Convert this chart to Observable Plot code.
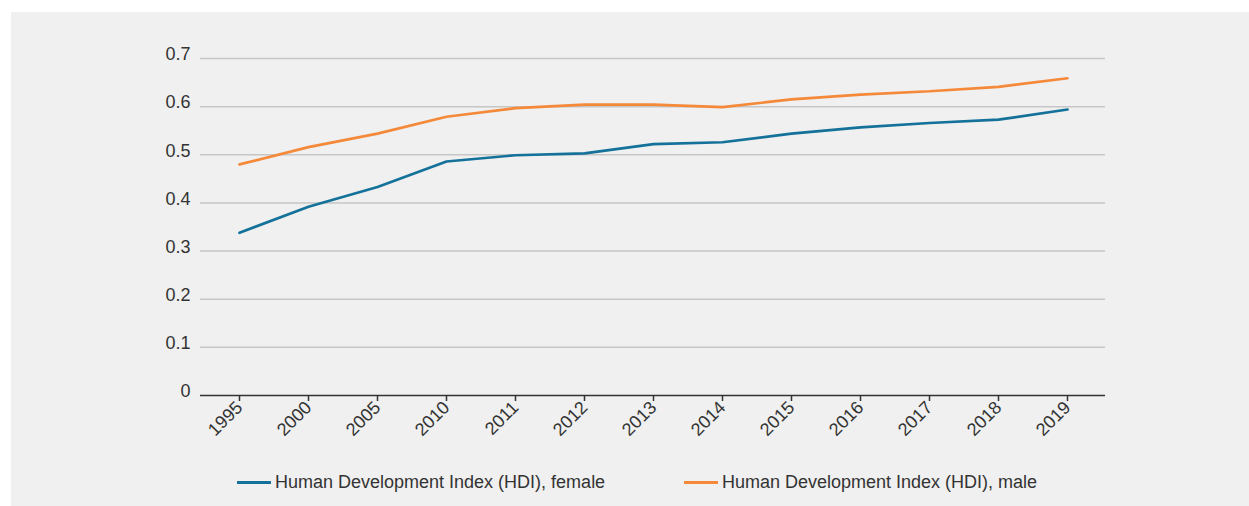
<!DOCTYPE html>
<html>
<head>
<meta charset="utf-8">
<script src="https://cdn.jsdelivr.net/npm/d3@7"></script>
<script src="https://cdn.jsdelivr.net/npm/@observablehq/plot@0.6"></script>
<style>
  html, body { margin: 0; padding: 0; background: #ffffff; }
  #panel { position: absolute; left: 11px; top: 12px; width: 1238px; height: 494px; background: #eff0ef; font-family: "Liberation Sans", Arial, sans-serif; }
  #chart { position: absolute; left: 0; top: 0; }
  #chart svg text { font-size: 18px; fill: #333; }
  #legend { position: absolute; top: 459px; left: 0; width: 1238px; height: 24px; font-size: 18px; color: #333; }
  .item { position: absolute; top: 0; display: flex; align-items: center; height: 22px; }
  .sw { width: 34px; height: 3px; margin-right: 4px; }
</style>
</head>
<body>
<div id="panel">
  <div id="chart"></div>
  <div id="legend"></div>
</div>
<script>
const years = ["1995","2000","2005","2010","2011","2012","2013","2014","2015","2016","2017","2018","2019"];
const female = [0.338, 0.392, 0.433, 0.486, 0.499, 0.503, 0.522, 0.526, 0.544, 0.557, 0.566, 0.573, 0.594];
const male   = [0.480, 0.516, 0.544, 0.579, 0.597, 0.604, 0.604, 0.599, 0.615, 0.625, 0.632, 0.641, 0.659];
const seriesNames = ["Human Development Index (HDI), female", "Human Development Index (HDI), male"];
const seriesColors = ["#14719a", "#f5893a"];
const yTicks = [0, 0.1, 0.2, 0.3, 0.4, 0.5, 0.6, 0.7];

const rows = [];
years.forEach((y, i) => {
  rows.push({year: y, value: female[i], series: seriesNames[0]});
  rows.push({year: y, value: male[i], series: seriesNames[1]});
});

const plot = Plot.plot({
  width: 1238,
  height: 440,
  marginLeft: 189,
  marginRight: 144,
  marginTop: 46,
  marginBottom: 57,
  style: {background: "transparent", fontFamily: "'Liberation Sans', Arial, sans-serif", color: "#333"},
  x: {type: "point", domain: years, padding: 0.5, label: null},
  y: {domain: [0, 0.7], label: null},
  color: {domain: seriesNames, range: seriesColors},
  marks: [
    Plot.gridY(yTicks.slice(1), {stroke: "#c6c6c6", strokeOpacity: 1, strokeWidth: 1.5}),
    Plot.axisY(yTicks, {tickSize: 0, tickPadding: 10, tickFormat: d => d === 0 ? "0" : d.toFixed(1), fill: "#333", dy: -4, label: null}),
    Plot.ruleY([0], {stroke: "#333", strokeWidth: 1.5}),
    Plot.axisX({tickRotate: -45, tickSize: 6, tickPadding: 3, stroke: "#333", strokeWidth: 1.5, fill: "#333", label: null}),
    Plot.line(rows, {x: "year", y: "value", z: "series", stroke: "series", strokeWidth: 2.7, strokeLinejoin: "miter"})
  ]
});
document.getElementById("chart").appendChild(plot);

const legend = document.getElementById("legend");
const lefts = [226, 673];
seriesNames.forEach((n, i) => {
  const d = document.createElement("div");
  d.className = "item";
  d.style.left = lefts[i] + "px";
  d.innerHTML = `<span class="sw" style="background:${seriesColors[i]}"></span><span>${n}</span>`;
  legend.appendChild(d);
});
</script>
</body>
</html>
